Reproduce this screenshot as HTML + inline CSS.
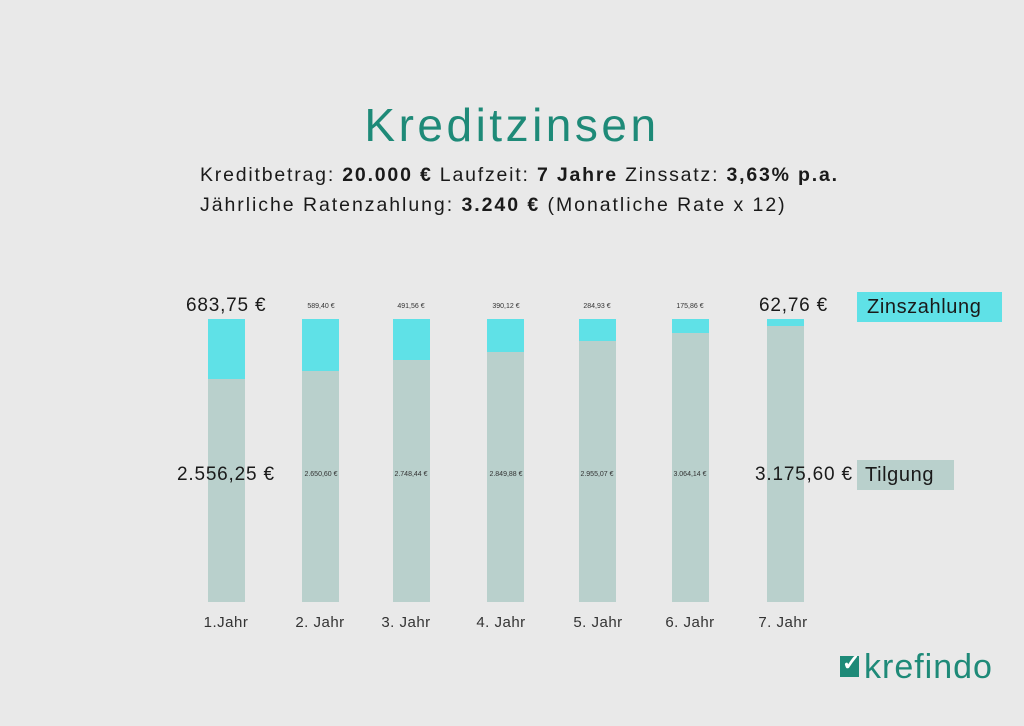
<!DOCTYPE html>
<html><head><meta charset="utf-8"><style>
body{margin:0;width:1024px;height:726px;background:#e9e9e9;font-family:"Liberation Sans",sans-serif;position:relative;overflow:hidden;color:#1a1a1a}
.a{position:absolute;white-space:nowrap}
.bar{position:absolute;width:37px;top:319px;height:283px;background:#b9d0cc}
.cy{position:absolute;left:0;top:0;width:100%;background:#5fe1e7}
.s{font-size:7px;color:#333;text-align:center;width:80px}
.big{font-size:19px;letter-spacing:0.8px}
.yr{font-size:15px;color:#333;text-align:center;width:80px;top:614px;letter-spacing:0.5px}
</style></head><body>
<div class="a" style="left:0;width:1024px;text-align:center;top:98px;font-size:46px;letter-spacing:3.5px;color:#1e8a78">Kreditzinsen</div>
<div class="a" style="left:200px;top:164px;font-size:19.5px;letter-spacing:1.8px">Kreditbetrag: <b>20.000 €</b> Laufzeit: <b>7 Jahre</b> Zinssatz: <b>3,63% p.a.</b></div>
<div class="a" style="left:200px;top:194px;font-size:19.5px;letter-spacing:1.95px">Jährliche Ratenzahlung: <b>3.240 €</b> (Monatliche Rate x 12)</div>

<div class="bar" style="left:208px"><div class="cy" style="height:60px"></div></div>
<div class="bar" style="left:302px"><div class="cy" style="height:52px"></div></div>
<div class="bar" style="left:393px"><div class="cy" style="height:41px"></div></div>
<div class="bar" style="left:487px"><div class="cy" style="height:33px"></div></div>
<div class="bar" style="left:579px"><div class="cy" style="height:22px"></div></div>
<div class="bar" style="left:672px"><div class="cy" style="height:14px"></div></div>
<div class="bar" style="left:767px"><div class="cy" style="height:7px"></div></div>

<div class="a big" style="left:186px;top:295px">683,75 €</div>
<div class="a s" style="left:281px;top:303px">589,40 €</div>
<div class="a s" style="left:371px;top:303px">491,56 €</div>
<div class="a s" style="left:466px;top:303px">390,12 €</div>
<div class="a s" style="left:557px;top:303px">284,93 €</div>
<div class="a s" style="left:650px;top:303px">175,86 €</div>
<div class="a big" style="left:759px;top:295px">62,76 €</div>

<div class="a big" style="left:177px;top:464px">2.556,25 €</div>
<div class="a s" style="left:281px;top:471px">2.650,60 €</div>
<div class="a s" style="left:371px;top:471px">2.748,44 €</div>
<div class="a s" style="left:466px;top:471px">2.849,88 €</div>
<div class="a s" style="left:557px;top:471px">2.955,07 €</div>
<div class="a s" style="left:650px;top:471px">3.064,14 €</div>
<div class="a big" style="left:755px;top:464px">3.175,60 €</div>

<div class="a" style="left:857px;top:292px;width:145px;height:30px;background:#5fe1e7;font-size:20px;line-height:30px;padding-left:10px;box-sizing:border-box;letter-spacing:0.6px">Zinszahlung</div>
<div class="a" style="left:857px;top:460px;width:97px;height:30px;background:#b9d0cc;font-size:20px;line-height:30px;padding-left:8px;box-sizing:border-box;letter-spacing:0.6px">Tilgung</div>

<div class="a yr" style="left:186px">1.Jahr</div>
<div class="a yr" style="left:280px">2. Jahr</div>
<div class="a yr" style="left:366px">3. Jahr</div>
<div class="a yr" style="left:461px">4. Jahr</div>
<div class="a yr" style="left:558px">5. Jahr</div>
<div class="a yr" style="left:650px">6. Jahr</div>
<div class="a yr" style="left:743px">7. Jahr</div>

<div class="a" style="left:840px;top:656px;width:19px;height:21px;background:#1e8a78"></div>
<div class="a" style="left:842px;top:650px;font-size:22px;color:#fff;font-weight:bold">✓</div>
<div class="a" style="left:864px;top:648px;font-size:34px;letter-spacing:1px;color:#1e8a78">krefindo</div>
</body></html>
